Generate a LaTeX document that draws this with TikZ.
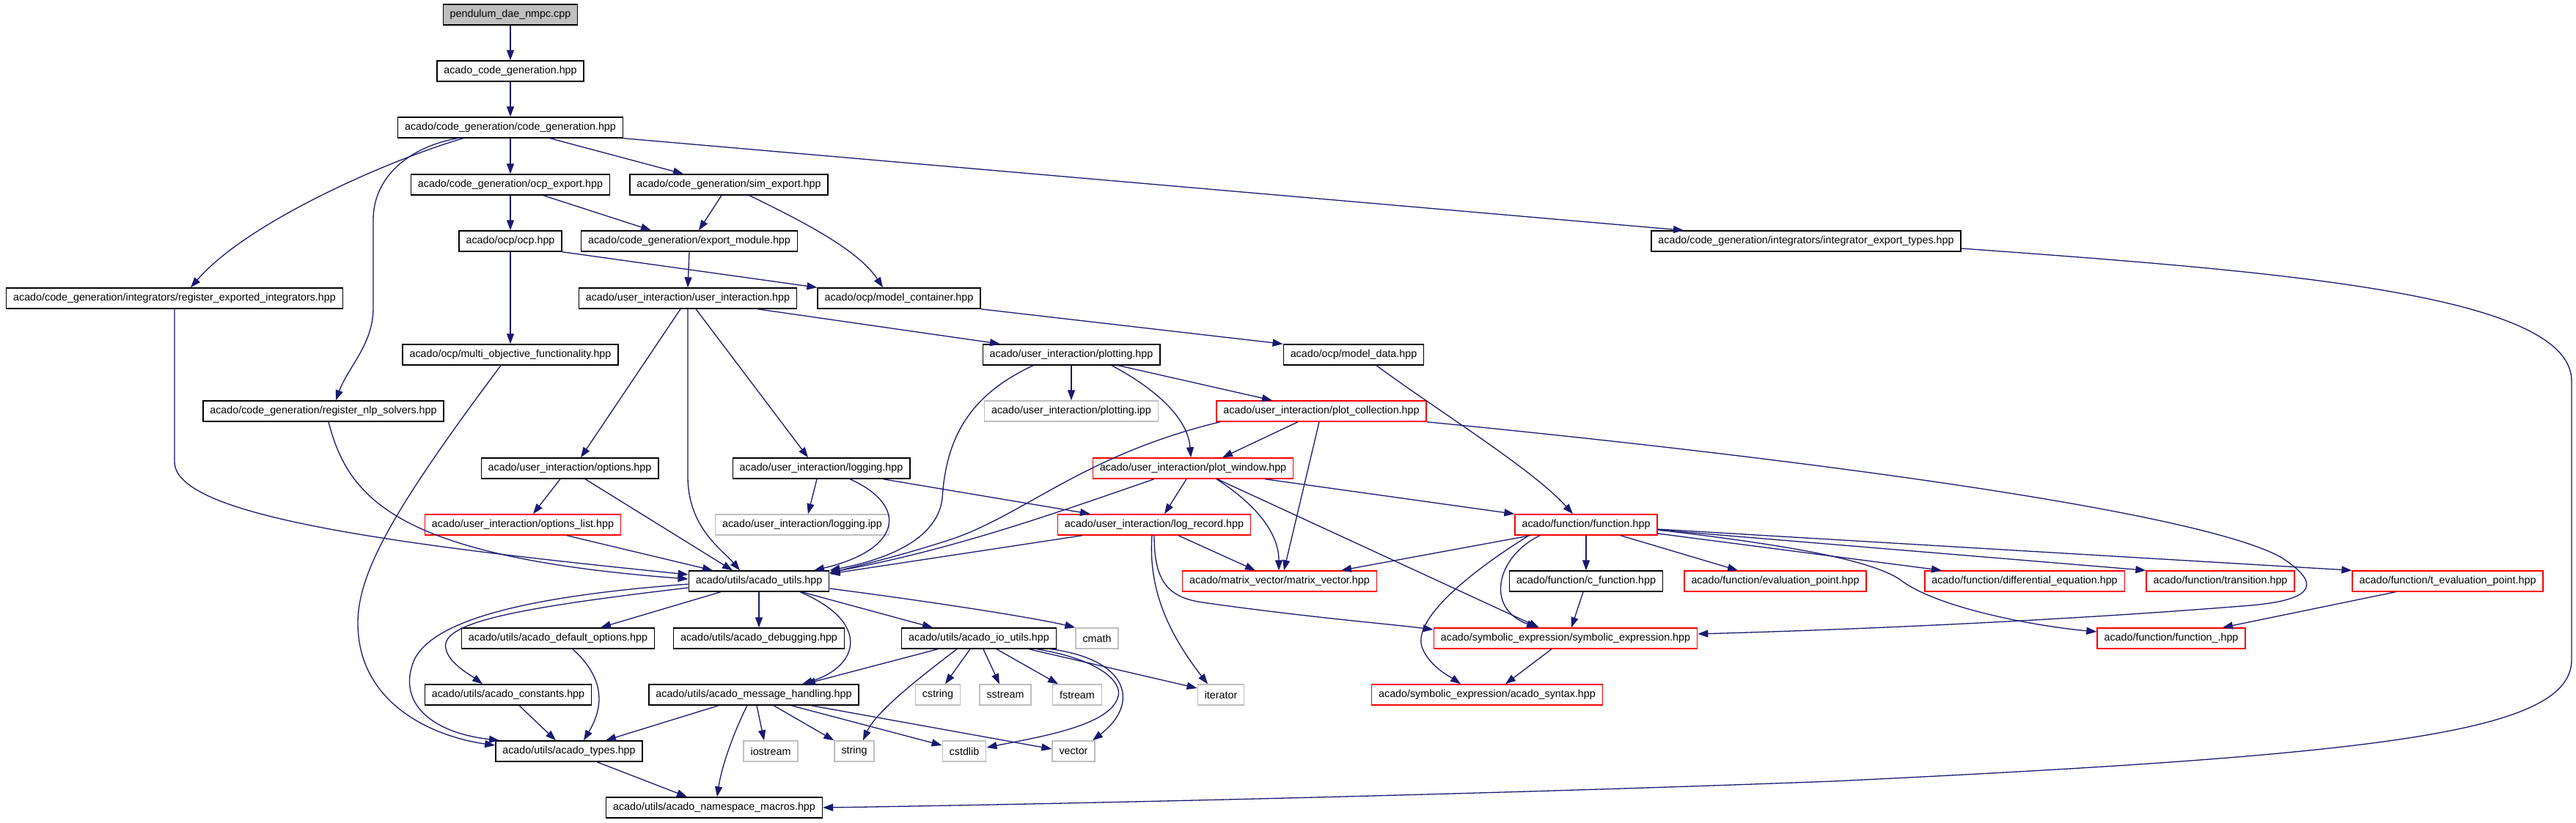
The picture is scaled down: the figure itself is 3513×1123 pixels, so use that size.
\documentclass[tikz,border=0pt]{standalone}
\usepackage{fontspec}
\setmainfont{Liberation Sans}
\usetikzlibrary{arrows.meta}

\definecolor{edgeblue}{HTML}{191970}
\definecolor{boxgray}{HTML}{BFBFBF}

\tikzset{
  file/.style={draw=black, line width=1.4pt, minimum height=28pt, inner xsep=9.5pt, inner ysep=0pt, font=\fontsize{14.3}{17}\selectfont},
  misfile/.style={file, draw=red},
  sysfile/.style={file, draw=boxgray},
  rootfile/.style={file, fill=boxgray},
  dep/.style={draw=edgeblue, line width=1.3pt, -{Triangle[length=14pt,width=10pt]}},
}

\begin{document}
\begin{tikzpicture}[x=1pt, y=-1pt]
    \useasboundingbox (0,0) rectangle (3513,1123);

    % Files, row by row
    \node[rootfile] (root) at (696,20) {pendulum\_dae\_nmpc.cpp};
    \node[file] (acg) at (696,97) {acado\_code\_generation.hpp};
    \node[file] (cg) at (696,174) {acado/code\_generation/code\_generation.hpp};
    \node[file] (ocpexp) at (696,252) {acado/code\_generation/ocp\_export.hpp};
    \node[file] (simexp) at (994,252) {acado/code\_generation/sim\_export.hpp};
    \node[file] (ocp) at (696,329) {acado/ocp/ocp.hpp};
    \node[file] (expmod) at (940,329) {acado/code\_generation/export\_module.hpp};
    \node[file] (inttypes) at (2463,329) {acado/code\_generation/integrators/integrator\_export\_types.hpp};
    \node[file] (regint) at (238,407) {acado/code\_generation/integrators/register\_exported\_integrators.hpp};
    \node[file] (uinter) at (938,407) {acado/user\_interaction/user\_interaction.hpp};
    \node[file] (modcont) at (1226,407) {acado/ocp/model\_container.hpp};
    \node[file] (multiobj) at (696,484) {acado/ocp/multi\_objective\_functionality.hpp};
    \node[file] (plotting) at (1461,484) {acado/user\_interaction/plotting.hpp};
    \node[file] (moddata) at (1846,484) {acado/ocp/model\_data.hpp};
    \node[file] (regnlp) at (441,561) {acado/code\_generation/register\_nlp\_solvers.hpp};
    \node[sysfile] (plotipp) at (1461,561) {acado/user\_interaction/plotting.ipp};
    \node[misfile] (plotcoll) at (1802,561) {acado/user\_interaction/plot\_collection.hpp};
    \node[file] (options) at (777,639) {acado/user\_interaction/options.hpp};
    \node[file] (logging) at (1120,639) {acado/user\_interaction/logging.hpp};
    \node[misfile] (plotwin) at (1627,639) {acado/user\_interaction/plot\_window.hpp};
    \node[misfile] (optlist) at (713,716) {acado/user\_interaction/options\_list.hpp};
    \node[sysfile] (logipp) at (1094,716) {acado/user\_interaction/logging.ipp};
    \node[misfile] (logrec) at (1574,716) {acado/user\_interaction/log\_record.hpp};
    \node[misfile] (fn) at (2163,716) {acado/function/function.hpp};
    \node[file] (utils) at (1035,793) {acado/utils/acado\_utils.hpp};
    \node[misfile] (matvec) at (1745,793) {acado/matrix\_vector/matrix\_vector.hpp};
    \node[file] (cfunc) at (2163,793) {acado/function/c\_function.hpp};
    \node[misfile] (evalpt) at (2421,793) {acado/function/evaluation\_point.hpp};
    \node[misfile] (diffeq) at (2761,793) {acado/function/differential\_equation.hpp};
    \node[misfile] (transit) at (3028,793) {acado/function/transition.hpp};
    \node[misfile] (tevalpt) at (3338,793) {acado/function/t\_evaluation\_point.hpp};
    \node[file] (defopt) at (761,871) {acado/utils/acado\_default\_options.hpp};
    \node[file] (debug) at (1035,871) {acado/utils/acado\_debugging.hpp};
    \node[file] (ioutils) at (1335,871) {acado/utils/acado\_io\_utils.hpp};
    \node[sysfile] (cmath) at (1496,871) {cmath};
    \node[misfile] (symexpr) at (2135,871) {acado/symbolic\_expression/symbolic\_expression.hpp};
    \node[misfile] (funcu) at (2961,871) {acado/function/function\_.hpp};
    \node[file] (consts) at (693,948) {acado/utils/acado\_constants.hpp};
    \node[file] (msghand) at (1028,948) {acado/utils/acado\_message\_handling.hpp};
    \node[sysfile] (cstring) at (1279,948) {cstring};
    \node[sysfile] (sstream) at (1371,948) {sstream};
    \node[sysfile] (fstream) at (1469,948) {fstream};
    \node[sysfile] (iterator) at (1665,948) {iterator};
    \node[misfile] (syntax) at (2028,948) {acado/symbolic\_expression/acado\_syntax.hpp};
    \node[file] (types) at (776,1025) {acado/utils/acado\_types.hpp};
    \node[sysfile] (iostream) at (1051,1025) {iostream};
    \node[sysfile] (string) at (1165,1025) {string};
    \node[sysfile] (cstdlib) at (1315,1025) {cstdlib};
    \node[sysfile] (vector) at (1464,1025) {vector};
    \node[file] (nsmacros) at (974,1102) {acado/utils/acado\_namespace\_macros.hpp};

    % Code generation
    \draw[dep] (root) -- (acg);
    \draw[dep] (acg) -- (cg);
    \draw[dep] ([xshift=-64pt]cg.south) .. controls (540,215) and (340,300) .. ([xshift=22pt]regint.north);
    \draw[dep] ([xshift=-72pt]cg.south) .. controls (560,200) and (509,240) .. (509,300) -- (509,420) .. controls (509,470) and (475,500) .. ([xshift=17pt]regnlp.north);
    \draw[dep] (cg) -- (ocpexp);
    \draw[dep] ([xshift=54pt]cg.south) -- ([xshift=-62pt]simexp.north);
    \draw[dep] (cg.south east) -- ([xshift=-167pt]inttypes.north);
    \draw[dep] (ocpexp) -- (ocp);
    \draw[dep] ([xshift=45pt]ocpexp.south) -- ([xshift=-52pt]expmod.north);
    \draw[dep] ([xshift=-10pt]simexp.south) -- ([xshift=13pt]expmod.north);
    \draw[dep] ([xshift=28pt]simexp.south) .. controls (1090,300) and (1170,340) .. ([xshift=-22pt]modcont.north);
    \draw[dep] (ocp) -- (multiobj);
    \draw[dep] (ocp.south east) -- (modcont.north west);
    \draw[dep] (expmod.south) -- (uinter.north);
    \draw[dep] ([yshift=-10pt]inttypes.east) .. controls (3100,370) and (3507,400) .. (3507,520) -- (3507,900)
        .. controls (3507,1000) and (3250,1030) .. (2500,1066) .. controls (2000,1085) and (1400,1098) .. (nsmacros.east);

    % Into acado_utils from the left
    \draw[dep] (regint.south) -- (238,630) .. controls (238,700) and (500,740) .. ([yshift=9pt]utils.west);
    \draw[dep] ([xshift=7pt]regnlp.south) .. controls (475,680) and (540,760) .. ([yshift=3pt]utils.west);
    \draw[dep] ([xshift=-13pt]multiobj.south) .. controls (540,690) and (488,780) .. (488,850) .. controls (488,960) and (590,1005) .. ([yshift=8pt]types.west);

    % User interaction
    \draw[dep] ([xshift=-10pt]uinter.south) -- ([xshift=15pt]options.north);
    \draw[dep] (uinter.south) -- (938,650) .. controls (938,720) and (985,750) .. ([xshift=-26pt]utils.north);
    \draw[dep] ([xshift=11pt]uinter.south) -- ([xshift=-18pt]logging.north);
    \draw[dep] ([xshift=95pt]uinter.south) -- ([xshift=-97pt]plotting.north);
    \draw[dep] (modcont.south east) -- (moddata.north west);
    \draw[dep] ([xshift=-13pt]options.south) -- ([xshift=14pt]optlist.north);
    \draw[dep] ([xshift=21pt]options.south) -- ([xshift=-36pt]utils.north);
    \draw[dep] ([xshift=60pt]optlist.south) -- ([xshift=-63pt]utils.north);
    \draw[dep] ([xshift=-6pt]logging.south) -- ([xshift=8pt]logipp.north);
    \draw[dep] ([xshift=39pt]logging.south) .. controls (1240,690) and (1230,750) .. ([xshift=75pt]utils.north);
    \draw[dep] ([xshift=84pt]logging.south) -- ([xshift=-87pt]logrec.north);

    % Plotting
    \draw[dep] (plotting) -- (plotipp);
    \draw[dep] ([xshift=64pt]plotting.south) -- ([xshift=-67pt]plotcoll.north);
    \draw[dep] ([xshift=55pt]plotting.south) .. controls (1575,530) and (1620,570) .. ([xshift=-3pt]plotwin.north);
    \draw[dep] ([xshift=-52pt]plotting.south) .. controls (1320,540) and (1290,600) .. (1285,680) .. controls (1278,740) and (1200,765) .. (utils.north east);
    \draw[dep] ([xshift=31pt]moddata.south) .. controls (1960,560) and (2090,640) .. ([xshift=-18pt]fn.north);
    \draw[dep] ([xshift=-32pt]plotcoll.south) -- ([xshift=40pt]plotwin.north);
    \draw[dep] ([xshift=-138pt]plotcoll.south) .. controls (1480,620) and (1400,700) .. (1300,735) .. controls (1230,758) and (1170,772) .. ([yshift=11pt]utils.east);
    \draw[dep] ([xshift=-3pt]plotcoll.south) -- ([xshift=6pt]matvec.north);
    \draw[dep] (plotcoll.south east) .. controls (2500,630) and (3000,700) .. (3110,760) .. controls (3165,795) and (3160,818) .. (3070,826)
        .. controls (2800,848) and (2500,860) .. ([yshift=6pt]symexpr.east);

    % Plot window and log record
    \draw[dep] ([xshift=-9pt]plotwin.south) -- ([xshift=14pt]logrec.north);
    \draw[dep] ([xshift=98pt]plotwin.south) -- (fn.north west);
    \draw[dep] ([xshift=-53pt]plotwin.south) .. controls (1440,700) and (1300,750) .. ([yshift=12pt]utils.east);
    \draw[dep] ([xshift=32pt]plotwin.south) .. controls (1700,680) and (1744,720) .. ([xshift=-1pt]matvec.north);
    \draw[dep] ([xshift=33pt]plotwin.south) -- ([xshift=-36pt]symexpr.north);
    \draw[dep] ([xshift=-98pt]logrec.south) -- ([yshift=10pt]utils.east);
    \draw[dep] ([xshift=33pt]logrec.south) -- ([xshift=-33pt]matvec.north);
    \draw[dep] ([xshift=-3pt]logrec.south) .. controls (1566,800) and (1590,860) .. ([xshift=-18pt]iterator.north);
    \draw[dep] (logrec.south) .. controls (1574,790) and (1590,815) .. (1640,822) .. controls (1780,842) and (1900,852) .. ([yshift=12pt]symexpr.west);

    % Function
    \draw[dep] ([xshift=-76pt]fn.south) -- ([xshift=84pt]matvec.north);
    \draw[dep] ([xshift=-63pt]fn.south) .. controls (2040,760) and (2025,830) .. ([xshift=-39pt]symexpr.north);
    \draw[dep] ([xshift=-78pt]fn.south) .. controls (1990,790) and (1925,850) .. (1940,885) .. controls (1950,910) and (1980,925) .. ([xshift=-36pt]syntax.north);
    \draw[dep] (fn) -- (cfunc);
    \draw[dep] ([xshift=47pt]fn.south) -- ([xshift=-51pt]evalpt.north);
    \draw[dep] ([yshift=-12pt]fn.east) -- ([xshift=-113pt]diffeq.north);
    \draw[dep] ([yshift=-7pt]fn.east) -- (transit.north west);
    \draw[dep] ([yshift=-6pt]fn.east) -- (tevalpt.north west);
    \draw[dep] ([yshift=-7pt]fn.east) .. controls (2450,745) and (2550,765) .. (2590,790) .. controls (2640,830) and (2780,855) .. ([yshift=9pt]funcu.west);
    \draw[dep] ([xshift=-4pt]cfunc.south) -- ([xshift=8pt]symexpr.north);
    \draw[dep] ([xshift=-19pt]symexpr.south) -- ([xshift=25pt]syntax.north);
    \draw[dep] ([xshift=-71pt]tevalpt.south) -- ([xshift=70pt]funcu.north);

    % Utils
    \draw[dep] ([xshift=-52pt]utils.south) -- ([xshift=58pt]defopt.north);
    \draw[dep] (utils) -- (debug);
    \draw[dep] ([yshift=-9pt]utils.west) .. controls (700,830) and (600,850) .. (608,885) .. controls (612,905) and (640,920) .. ([xshift=-35pt]consts.north);
    \draw[dep] ([yshift=-4pt]utils.west) .. controls (700,815) and (590,850) .. (565,900) .. controls (540,960) and (590,1000) .. ([xshift=-95pt]types.north);
    \draw[dep] ([xshift=56pt]utils.south) .. controls (1190,850) and (1170,910) .. ([xshift=66pt]msghand.north);
    \draw[dep] ([xshift=58pt]utils.south) -- ([xshift=-63pt]ioutils.north);
    \draw[dep] ([yshift=-10pt]utils.east) .. controls (1300,825) and (1420,845) .. (cmath.north west);

    % IO utils
    \draw[dep] ([xshift=-56pt]ioutils.south) -- ([xshift=70pt]msghand.north);
    \draw[dep] ([xshift=-30pt]ioutils.south) .. controls (1260,920) and (1195,970) .. ([xshift=12pt]string.north);
    \draw[dep] ([xshift=-12pt]ioutils.south) -- ([xshift=10pt]cstring.north);
    \draw[dep] ([xshift=6pt]ioutils.south) -- ([xshift=-8pt]sstream.north);
    \draw[dep] ([xshift=24pt]ioutils.south) -- ([xshift=-26pt]fstream.north);
    \draw[dep] ([xshift=68pt]ioutils.south) -- ([yshift=9pt]iterator.west);
    \draw[dep] ([xshift=79pt]ioutils.south) .. controls (1500,900) and (1530,930) .. (1525,950) .. controls (1515,990) and (1420,1005) .. ([yshift=5pt]cstdlib.east);
    \draw[dep] ([xshift=98pt]ioutils.south) .. controls (1540,900) and (1555,960) .. ([xshift=26pt]vector.north);

    % Message handling and types
    \draw[dep] ([xshift=-48pt]msghand.south) -- ([xshift=50pt]types.north);
    \draw[dep] ([xshift=-9pt]msghand.south) .. controls (1005,990) and (985,1040) .. ([xshift=4pt]nsmacros.north);
    \draw[dep] ([xshift=4pt]msghand.south) -- ([xshift=-9pt]iostream.north);
    \draw[dep] ([xshift=27pt]msghand.south) -- (string.north west);
    \draw[dep] ([xshift=51pt]msghand.south) -- ([yshift=8pt]cstdlib.west);
    \draw[dep] ([xshift=78pt]msghand.south) -- ([yshift=3pt]vector.west);
    \draw[dep] ([xshift=20pt]defopt.south) .. controls (830,930) and (820,970) .. ([xshift=20pt]types.north);
    \draw[dep] ([xshift=15pt]consts.south) -- ([xshift=-18pt]types.north);
    \draw[dep] ([xshift=38pt]types.south) -- ([xshift=-37pt]nsmacros.north);
\end{tikzpicture}
\end{document}
